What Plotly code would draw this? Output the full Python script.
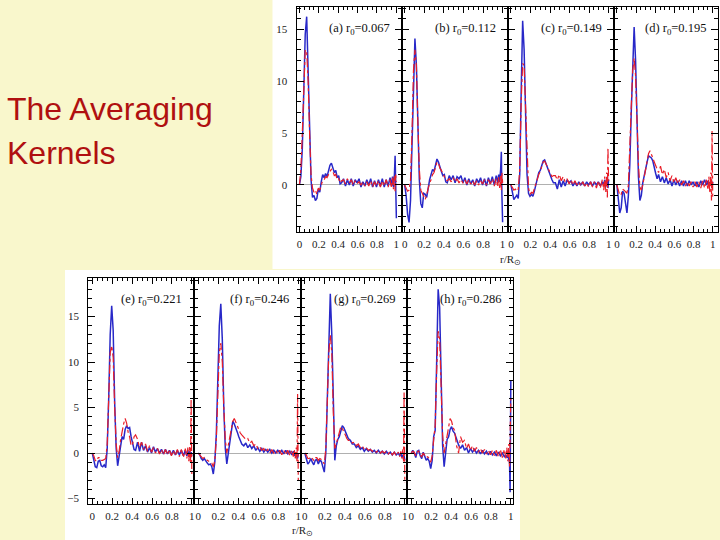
import plotly.graph_objects as go

# Common radius grid r/R
X = [0, 0.015, 0.03, 0.045, 0.06, 0.075, 0.09, 0.105, 0.12, 0.135, 0.15, 0.165, 0.18, 0.195, 0.21,
     0.225, 0.24, 0.255, 0.27, 0.285, 0.3, 0.315, 0.33, 0.345, 0.36, 0.375, 0.39, 0.405, 0.42, 0.435,
     0.455, 0.475, 0.495, 0.515, 0.535, 0.555, 0.575, 0.595, 0.615, 0.635, 0.655, 0.675, 0.695, 0.715,
     0.735, 0.755, 0.775, 0.795, 0.815, 0.835, 0.855, 0.875, 0.895, 0.915, 0.935,
     0.95, 0.96, 0.97, 0.98, 0.987, 0.993, 1.0]

labels = ["(a) r<sub>0</sub>=0.067", "(b) r<sub>0</sub>=0.112", "(c) r<sub>0</sub>=0.149", "(d) r<sub>0</sub>=0.195",
          "(e) r<sub>0</sub>=0.221", "(f) r<sub>0</sub>=0.246", "(g) r<sub>0</sub>=0.269", "(h) r<sub>0</sub>=0.286"]

blue_a = [0, 0.8, 3.5, 8.5, 14.5, 16.2, 10.5, 4.5, 0.5, -1.2, -1.0, -1.5, -1.3, -0.4, -0.7,
          0.3, 1.0, 0.7, 1.1, 0.8, 1.4, 1.9, 2.1, 1.7, 1.2, 1.4, 0.7, 0.9, 0.1, 0.2,
          0.6, -0.1, 0.5, 0.0, 0.6, -0.1, 0.5, 0.2, 0.6, -0.2, 0.3, -0.1, 0.5, 0.0,
          0.6, -0.2, 0.4, -0.2, 0.5, -0.1, 0.6, -0.2, 0.5, -0.1, 0.7,
          -0.1, 0.8, -0.2, 1.0, 2.8, -1.0, -3.2]
red_a = [0, 1.5, 5, 10, 13, 12.8, 10, 5, 1, -0.3, -0.7, -0.5, -0.9, -0.3, -0.5,
         0.0, 0.4, 0.5, 0.8, 0.7, 1.1, 1.3, 1.5, 1.3, 0.9, 1.0, 0.5, 0.6, 0.2, 0.4,
         0.5, 0.1, 0.6, 0.2, 0.5, 0.0, 0.4, 0.1, 0.3, 0.0, 0.3, -0.1, 0.3, -0.1,
         0.4, -0.2, 0.3, -0.1, 0.4, -0.2, 0.4, -0.1, 0.5, -0.2, 0.5,
         -0.3, 0.7, -0.4, 0.9, -0.6, 1.0, 0.3]

blue_b = [0, -1.0, -2.8, -3.6, -1.5, 3.5, 10.5, 14.1, 11.5, 5, 0.5, -1.8, -2.2, -0.8, -0.9,
          -1.2, -0.2, 0.5, 1.0, 1.5, 1.3, 2.0, 2.5, 2.2, 1.6, 1.3, 0.9, 1.0, 0.3, 0.2,
          0.9, 0.5, 0.9, 0.2, 0.8, 0.6, 0.9, 0.2, 0.7, 0.0, 0.6, 0.1, 0.5, -0.1,
          0.6, 0.2, 0.7, 0.0, 0.6, -0.1, 0.7, 0.1, 0.8, 0.0, 0.9,
          0.2, 1.0, 0.3, 1.5, 3.2, -1.0, -3.6]
red_b = [0, -0.3, -0.6, -0.5, 0.5, 5, 11, 13.0, 11.5, 6, 1.5, -0.5, -0.8, -1.0, -1.4,
         -0.9, -0.3, 0.2, 0.5, 1.0, 1.2, 1.8, 2.2, 2.1, 1.6, 1.4, 1.0, 0.8, 0.5, 0.4,
         0.6, 0.3, 0.7, 0.3, 0.6, 0.2, 0.5, 0.2, 0.5, 0.1, 0.5, 0.1, 0.4, 0.0,
         0.4, 0.0, 0.4, 0.1, 0.5, 0.0, 0.5, 0.1, 0.6, -0.1, 0.6,
         -0.2, 0.8, -0.3, 0.9, -0.5, 1.2, 0.2]

blue_c = [0, -0.8, -1.4, -1.2, -1.0, -1.3, 1.0, 9.0, 15.8, 13.0, 6.0, 1.0, -0.8, -1.1, -0.9,
          -1.1, -0.6, 0.0, 0.6, 1.2, 1.4, 1.9, 2.3, 2.4, 2.0, 1.5, 1.1, 0.8, 0.5, 0.2,
          0.2, -0.4, 0.5, -0.2, 0.4, -0.1, 0.5, 0.2, 0.4, -0.1, 0.3, -0.1, 0.3, 0.0,
          0.3, -0.1, 0.3, 0.0, 0.3, -0.1, 0.3, 0.0, 0.3, -0.1, 0.3,
          0.0, 0.5, -0.2, 0.4, 0.8, -0.3, 0.5]
red_c = [0, -0.3, -0.5, -0.4, -0.6, -0.4, 1.5, 8.0, 11.7, 11.5, 7.0, 2.0, -0.3, -0.9, -0.7,
         -0.8, -0.3, 0.2, 0.5, 1.0, 1.3, 1.7, 2.2, 2.3, 2.0, 1.6, 1.3, 1.1, 0.8, 0.9,
         0.9, 0.5, 1.0, 0.4, 0.8, 0.3, 0.6, 0.1, 0.5, 0.0, 0.4, 0.0, 0.3, -0.1,
         0.3, -0.1, 0.2, -0.2, 0.3, -0.2, 0.3, -0.3, 0.4, -0.3, 0.5,
         -0.5, 0.8, -0.7, 1.2, -1.2, 3.6, 0.4]

blue_d = [0, -1.2, -2.7, -2.2, -0.6, -0.8, -2.0, -2.7, -1.0, 2.0, 7.0, 12.5, 15.2, 12.0, 5.5,
          0.8, -1.5, -1.0, 0.2, 1.0, 1.5, 2.2, 2.8, 2.7, 2.6, 2.3, 1.6, 1.1, 0.6, 1.0,
          0.3, 0.8, 0.2, 0.7, 0.1, 0.5, -0.1, 0.5, 0.0, 0.4, -0.1, 0.4, -0.1, 0.4,
          -0.1, 0.4, 0.0, 0.3, -0.1, 0.3, -0.2, 0.4, 0.0, 0.5, 0.0,
          0.4, -0.1, 0.3, 0.0, 0.4, -0.2, 0.3]
red_d = [0, -0.5, -1.0, -0.9, -0.4, -0.5, -0.7, -0.8, 0.0, 3.0, 7.5, 11.0, 12.2, 10.5, 6.0,
         2.0, -0.2, -0.5, 0.0, 0.8, 1.4, 2.3, 3.0, 3.3, 3.0, 2.6, 2.2, 1.8, 1.4, 1.2,
         1.8, 1.0, 1.5, 0.7, 1.2, 0.4, 0.9, 0.2, 0.7, 0.1, 0.5, 0.0, 0.4, -0.1,
         0.3, -0.1, 0.3, -0.2, 0.3, -0.2, 0.3, -0.3, 0.4, -0.3, 0.5,
         -0.5, 0.8, -0.8, 1.2, -1.5, 5.2, -1.2]

blue_e = [0, -0.6, -1.5, -1.6, -0.9, -0.8, -1.4, -1.5, -1.3, -1.6, 0.5, 6.0, 13.0, 16.2, 13.5,
          5.5, 0.5, -1.4, -0.5, 0.8, 1.8, 1.5, 2.6, 3.0, 2.7, 2.8, 1.8, 1.2, 0.4, 0.3,
          1.2, 0.2, 1.2, 0.3, 0.8, 0.1, 0.6, 0.0, 0.7, 0.1, 0.5, 0.0, 0.4, -0.1,
          0.4, -0.1, 0.3, -0.2, 0.3, -0.2, 0.3, -0.2, 0.3, -0.3, 0.3,
          -0.3, 0.3, -0.4, 0.2, -0.5, 0.1, -0.3]
red_e = [0, -0.3, -0.8, -0.9, -0.5, -0.5, -0.8, -0.8, -0.7, -0.6, 1.0, 6.0, 11.0, 11.8, 10.5,
         5.0, 1.0, -0.5, 0.2, 1.5, 2.5, 3.2, 3.8, 3.3, 2.3, 1.8, 0.8, 1.0, 1.8, 2.0,
         1.5, 0.6, 1.2, 0.4, 1.0, 0.2, 0.8, 0.1, 0.6, 0.0, 0.5, -0.1, 0.4, -0.2,
         0.4, -0.2, 0.4, -0.3, 0.3, -0.3, 0.4, -0.4, 0.4, -0.5, 0.5,
         -0.6, 0.6, -0.9, 0.8, -1.2, 6.0, -2.3]

blue_f = [0, -0.2, -0.6, -0.8, -0.6, -0.9, -1.1, -1.3, -1.2, -1.5, -2.3, -1.0, 2.0, 8.0, 14.0,
          16.4, 12.5, 5.0, 0.5, -1.2, 0.0, 1.5, 2.5, 3.5, 3.2, 2.6, 2.3, 1.8, 1.4, 1.0,
          0.8, 1.1, 0.6, 0.9, 0.5, 0.8, 0.3, 0.6, 0.2, 0.5, 0.1, 0.4, 0.1, 0.4,
          0.0, 0.3, 0.0, 0.3, 0.0, 0.3, -0.1, 0.3, -0.1, 0.2, -0.2,
          0.2, -0.3, 0.1, -0.4, -0.2, -0.6, 0.0]
red_f = [0, -0.2, -0.5, -0.6, -0.5, -0.7, -0.8, -0.9, -1.0, -1.1, -1.5, -0.8, 1.5, 6.0, 11.0,
         12.1, 10.0, 5.0, 1.5, 0.0, 0.8, 1.8, 2.8, 3.5, 3.8, 3.4, 2.8, 2.5, 2.2, 2.0,
         1.8, 1.5, 1.6, 1.1, 1.3, 0.8, 1.0, 0.5, 0.7, 0.3, 0.5, 0.1, 0.4, 0.0,
         0.4, 0.0, 0.3, -0.1, 0.3, -0.2, 0.3, -0.2, 0.3, -0.3, 0.3,
         -0.4, 0.4, -0.6, 0.6, -1.0, 6.5, -3.0]

blue_g = [0, -0.5, -1.2, -1.0, -0.6, -1.0, -1.3, -0.8, -0.7, -1.2, -0.8, -0.9, -1.6, -2.1, 0.0,
          6.0, 14.0, 17.5, 13.0, 4.0, -0.8, 0.8, 1.5, 1.8, 2.6, 3.0, 2.8, 2.4, 2.0, 1.6,
          1.4, 1.0, 1.0, 0.6, 0.8, 0.4, 0.6, 0.2, 0.5, 0.2, 0.4, 0.1, 0.3, 0.0,
          0.3, 0.0, 0.2, -0.1, 0.2, -0.1, 0.1, -0.2, 0.1, -0.2, 0.0,
          -0.3, 0.0, -0.4, -0.2, -0.6, -0.3, -0.8]
red_g = [0, -0.2, -0.6, -0.6, -0.4, -0.6, -0.8, -0.5, -0.5, -0.8, -0.6, -0.7, -1.0, -1.2, 0.5,
         5.5, 11.0, 13.0, 11.0, 4.5, 0.5, 1.0, 1.6, 2.4, 2.9, 2.7, 2.4, 2.0, 1.6, 1.4,
         1.4, 1.1, 1.2, 0.8, 1.0, 0.6, 0.8, 0.4, 0.6, 0.3, 0.4, 0.2, 0.3, 0.1,
         0.3, 0.0, 0.2, 0.0, 0.2, -0.1, 0.2, -0.2, 0.1, -0.3, 0.1,
         -0.4, 0.2, -0.6, 0.4, -1.0, 6.8, -3.3]

blue_h = [0, 0.3, 0.0, -0.5, 0.2, 0.3, -0.3, -0.6, 0.1, -0.3, -0.8, -0.6, -0.9, -1.7, -0.8,
          1.8, 2.5, 10.0, 18.0, 16.0, 7.0, 0.8, -1.5, 0.5, 1.5, 1.8, 2.6, 2.9, 2.4, 2.2,
          1.5, 0.9, 0.5, 0.9, 0.3, 0.6, 0.0, 0.5, 0.1, 0.4, 0.0, 0.3, -0.1, 0.3,
          -0.1, 0.2, -0.2, 0.2, -0.2, 0.1, -0.3, 0.1, -0.3, 0.0, -0.4,
          -0.2, -0.5, -0.3, -0.7, -1.0, -4.3, 8.0]
red_h = [0, 0.2, 0.1, -0.3, 0.1, 0.2, -0.2, -0.4, 0.0, -0.2, -0.5, -0.4, -0.6, -1.0, -0.3,
         1.5, 3.0, 9.0, 13.4, 12.5, 7.0, 2.0, 0.0, 1.0, 2.0, 2.8, 3.8, 3.5, 2.8, 2.5,
         0.8, 0.0, 1.8, 1.2, 1.4, 0.5, 1.0, 0.3, 0.8, 0.2, 0.6, 0.1, 0.5, 0.0,
         0.4, -0.1, 0.3, -0.2, 0.3, -0.3, 0.3, -0.4, 0.4, -0.5, 0.4,
         -0.6, 0.6, -0.9, 1.0, -1.5, 3.0, 6.0]

blues = [blue_a, blue_b, blue_c, blue_d, blue_e, blue_f, blue_g, blue_h]
reds = [red_a, red_b, red_c, red_d, red_e, red_f, red_g, red_h]

x_ticks = [0, 0.2, 0.4, 0.6, 0.8, 1]
x_ticktext = ["0", "0.2", "0.4", "0.6", "0.8", "1"]

W, H = 720, 540
BG = "rgb(249,247,204)"
BLUE = "rgb(40,40,200)"
RED = "rgb(232,30,40)"

def px_x(p):
    return p / W

def px_y(p):
    return 1 - p / H

top_x = [296.5, 401.7, 508.0, 614.0, 718.0]
bot_x = [88.3, 194.3, 300.8, 407.3, 513.3]
top_y = (7.3, 231.7)
bot_y = (277.5, 504.0)

fig = go.Figure()
layout = {}
tickfont = dict(family="Liberation Serif, Times New Roman, serif", size=11, color="#222")

for i in range(8):
    n = i + 1
    xa = "x" if n == 1 else f"x{n}"
    ya = "y" if n == 1 else f"y{n}"
    fig.add_trace(go.Scatter(x=X, y=blues[i], mode="lines", xaxis=xa, yaxis=ya,
                             line=dict(color=BLUE, width=1.5), showlegend=False))
    fig.add_trace(go.Scatter(x=X, y=reds[i], mode="lines", xaxis=xa, yaxis=ya,
                             line=dict(color=RED, width=1.2, dash="dashdot"), showlegend=False))
    if i < 4:
        xd = [px_x(top_x[i]), px_x(top_x[i + 1])]
        yd = [px_y(top_y[1]), px_y(top_y[0])]
        xr = [-0.03, 1.055]
        yr = [-4.5, 17.1]
    else:
        j = i - 4
        xd = [px_x(bot_x[j]), px_x(bot_x[j + 1])]
        yd = [px_y(bot_y[1]), px_y(bot_y[0])]
        xr = [-0.04, 1.025]
        yr = [-5.6, 19.3]
    layout[f"xaxis{n if n > 1 else ''}"] = dict(
        domain=xd, range=xr, anchor=ya, tickvals=x_ticks, ticktext=x_ticktext,
        ticks="inside", ticklen=6, tickwidth=1, tickcolor="black",
        showline=True, linecolor="black", linewidth=1.3, mirror="allticks",
        showgrid=False, zeroline=False, tickfont=tickfont, ticklabelstandoff=2,
        minor=dict(dtick=0.05, tick0=0, ticks="inside", ticklen=3, tickcolor="black", showgrid=False),
        fixedrange=True)
    layout[f"yaxis{n if n > 1 else ''}"] = dict(
        domain=yd, range=yr, anchor=xa, dtick=5, tick0=0,
        ticks="inside", ticklen=7, tickwidth=1, tickcolor="black",
        showline=True, linecolor="black", linewidth=1.3, mirror="allticks",
        showgrid=False, zeroline=True, zerolinecolor="#b0b0b0", zerolinewidth=1,
        showticklabels=(i in (0, 4)), tickfont=tickfont, ticklabelstandoff=6,
        minor=dict(dtick=1, tick0=0, ticks="inside", ticklen=4, tickcolor="black", showgrid=False),
        fixedrange=True)

annotations = []
for i in range(8):
    n = i + 1
    xa = "x" if n == 1 else f"x{n}"
    ya = "y" if n == 1 else f"y{n}"
    yfrac = 0.905 if i < 4 else 0.90
    annotations.append(dict(text=labels[i], xref=f"{xa} domain", yref=f"{ya} domain",
                            x=0.905, y=yfrac, xanchor="right", yanchor="middle", showarrow=False,
                            font=dict(family="Liberation Serif, Times New Roman, serif", size=12.5, color="#111")))

annotations.append(dict(text="r/R<sub>⊙</sub>", xref="paper", yref="paper", x=px_x(510), y=px_y(260),
                        xanchor="center", yanchor="middle", showarrow=False,
                        font=dict(family="Liberation Serif, serif", size=11, color="#222")))
annotations.append(dict(text="r/R<sub>⊙</sub>", xref="paper", yref="paper", x=px_x(302), y=px_y(531),
                        xanchor="center", yanchor="middle", showarrow=False,
                        font=dict(family="Liberation Serif, serif", size=11, color="#222")))

annotations.append(dict(text="The Averaging", xref="paper", yref="paper", x=px_x(5), y=px_y(109),
                        xanchor="left", yanchor="middle", showarrow=False,
                        font=dict(family="Liberation Sans, Arial, sans-serif", size=32, color="rgb(176,16,16)")))
annotations.append(dict(text="Kernels", xref="paper", yref="paper", x=px_x(5), y=px_y(153),
                        xanchor="left", yanchor="middle", showarrow=False,
                        font=dict(family="Liberation Sans, Arial, sans-serif", size=32, color="rgb(176,16,16)")))

shapes = [
    dict(type="rect", xref="paper", yref="paper", x0=px_x(272.5), x1=1.0, y0=px_y(269), y1=1.0,
         fillcolor="white", line=dict(width=0), layer="below"),
    dict(type="rect", xref="paper", yref="paper", x0=px_x(65), x1=px_x(520), y0=0.0, y1=px_y(270),
         fillcolor="white", line=dict(width=0), layer="below"),
]

fig.update_layout(width=W, height=H, margin=dict(l=0, r=0, t=0, b=0),
                  paper_bgcolor=BG, plot_bgcolor="white",
                  annotations=annotations, shapes=shapes, showlegend=False, **layout)

fig.write_html("out.html", config={"displayModeBar": False},
               post_script="document.body.style.margin='0px';document.body.style.padding='0px';"
                           "document.body.style.overflow='hidden';document.body.style.background='" + BG + "';")
